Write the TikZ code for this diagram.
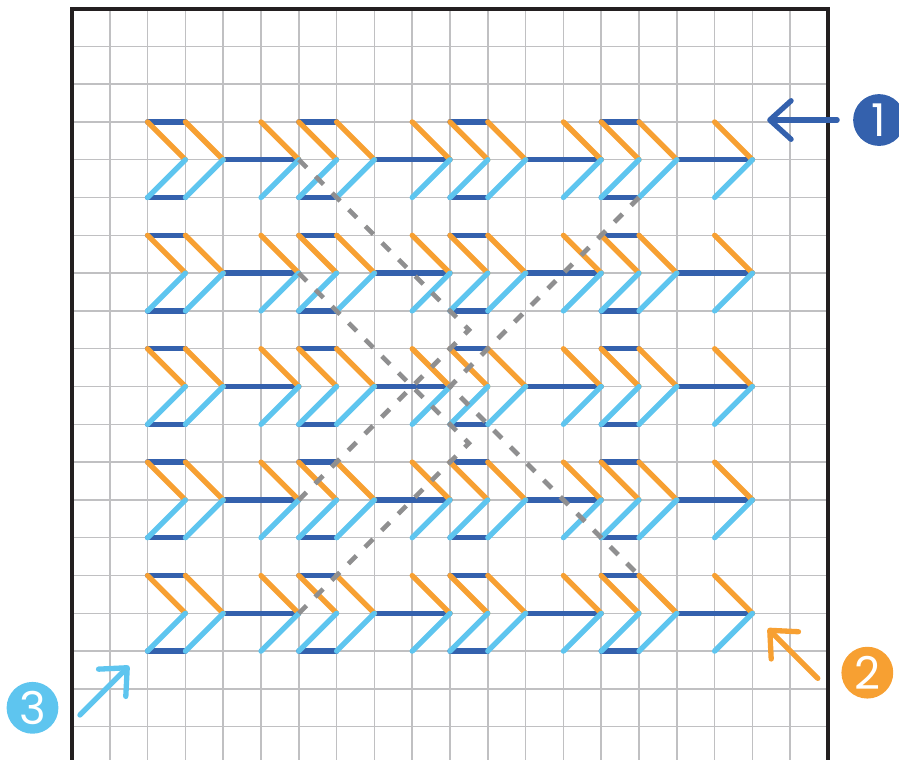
\documentclass[tikz,border=0pt]{standalone}
\usepackage{tikz}
\usetikzlibrary{arrows.meta}
\usepackage{xcolor}
\usepackage{fontspec}
\newfontfamily\badgefont{Poppins}
\definecolor{stitchblue}{HTML}{3461AD}
\definecolor{stitchorange}{HTML}{F7A032}
\definecolor{stitchcyan}{HTML}{5EC5EF}
\definecolor{gridgray}{HTML}{C0C0C2}
\definecolor{guidegray}{HTML}{8F8F90}
\definecolor{framecol}{HTML}{231F20}

\begin{document}
\begin{tikzpicture}[
  bar/.style={stitchblue, line width=4pt, line cap=round},
  slant/.style={line width=4pt, line cap=round},
  guide/.style={guidegray, line width=3.5pt, dash pattern=on 8.5pt off 9.2pt},
  badge/.style={circle, minimum size=39pt, inner sep=0pt, text=white, font=\badgefont\fontsize{34pt}{34pt}\selectfont},
  pointer/.style={line width=4pt, line cap=round, -{Straight Barb[length=16pt, width=29pt, round]}}
]
  \clip (-1.905,0.225) rectangle (21.878,-19.88);

  % canvas
  \draw[gridgray, line width=1.1pt] (0,0) grid (20,-20);
  \draw[framecol, line width=3pt] (0,0) rectangle (20,-20);

  % stitches: blue first, then orange, then cyan on top
  \foreach \r in {3,6,9,12,15} {
    \foreach \c in {2,6,10,14} {
      \draw[bar] (\c,-\r) -- ++(1,0);
      \draw[bar] (\c,-\r-2) -- ++(1,0);
      \draw[bar] (\c+2,-\r-1) -- ++(2,0);
    }
  }
  \foreach \r in {3,6,9,12,15} {
    \foreach \c in {2,6,10,14} {
      \draw[slant, stitchorange] (\c,-\r) -- ++(1,-1);
      \draw[slant, stitchorange] (\c+1,-\r) -- ++(1,-1);
      \draw[slant, stitchorange] (\c+3,-\r) -- ++(1,-1);
    }
  }
  \foreach \r in {3,6,9,12,15} {
    \foreach \c in {2,6,10,14} {
      \draw[slant, stitchcyan] (\c+1,-\r-1) -- ++(-1,-1);
      \draw[slant, stitchcyan] (\c+2,-\r-1) -- ++(-1,-1);
      \draw[slant, stitchcyan] (\c+4,-\r-1) -- ++(-1,-1);
    }
  }

  % guide lines
  \draw[guide] (6,-4) -- (10.5,-8.5) -- (6,-13);
  \draw[guide] (6,-7) -- (10.5,-11.5) -- (6,-16);
  \draw[guide] (15,-5) -- (10,-10) -- (15,-15);

  % badges and pointers
  \node[badge, fill=stitchblue] (one) at (21.35,-2.95) {1};
  \node[badge, fill=stitchorange] (two) at (21.04,-17.57) {2};
  \node[badge, fill=stitchcyan] (three) at (-1.045,-18.5) {3};

  \coordinate (one tail) at (20.24,-2.95);
  \coordinate (one tip) at (18.39,-2.95);
  \coordinate (two tail) at (19.73,-17.72);
  \coordinate (two tip) at (18.41,-16.40);
  \coordinate (three tail) at (0.21,-18.69);
  \coordinate (three tip) at (1.51,-17.39);

  \draw[pointer, stitchblue] (one tail) -- (one tip);
  \draw[pointer, stitchorange] (two tail) -- (two tip);
  \draw[pointer, stitchcyan] (three tail) -- (three tip);
\end{tikzpicture}
\end{document}
